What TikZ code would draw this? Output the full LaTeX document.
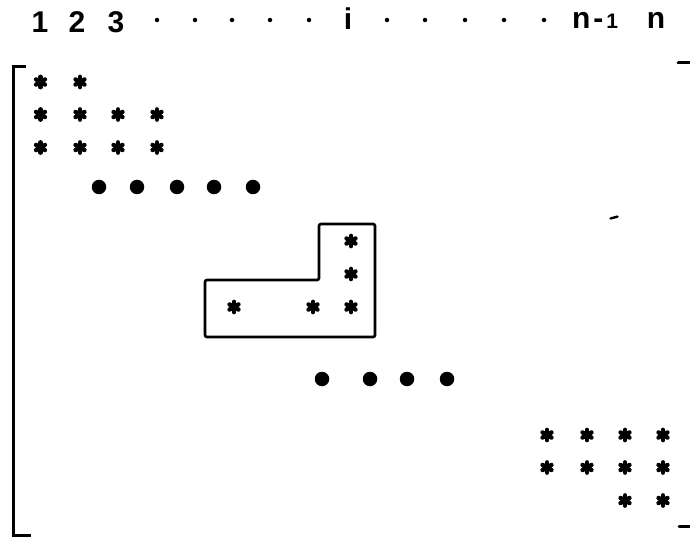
\documentclass[tikz,border=0pt]{standalone}
\usepackage{fontspec}
\setmainfont{Liberation Sans}
\tikzset{
  sixstar/.pic={
    \foreach \a in {90,30,150}{\draw[line width=4.3pt,line cap=round] (\a:5.2) -- (\a+180:5.2);}
    \fill (0,0) circle (4.6);
  },
  bigdot/.style={circle,fill=black,inner sep=0pt,minimum size=14.5pt},
  smalldot/.style={circle,fill=black,inner sep=0pt,minimum size=4.5pt},
  lbl/.style={inner sep=0pt,anchor=base,font=\fontsize{30}{30}\selectfont\bfseries},
  frame/.style={line width=3pt},
  boxline/.style={line width=2.7pt,rounded corners=2pt,line join=round},
}
\begin{document}
\begin{tikzpicture}[x=1pt,y=-1pt]
\useasboundingbox (0,0) rectangle (690,537);
% column labels
\node[lbl] (c1) at (40,33) {1};
\node[lbl] (c2) at (77,33) {2};
\node[lbl] (c3) at (116,33) {3};
\foreach \x [count=\k] in {157,195,232,270,309}{\node[smalldot] (da\k) at (\x,20) {};}
\node[lbl] (ci) at (348,30) {i};
\foreach \x [count=\k] in {387,425,465,504,544}{\node[smalldot] (db\k) at (\x,20) {};}
\node[lbl] (cn1) at (595,28.5) {n\kern3pt-\kern3pt{\fontsize{21}{21}\selectfont 1}};
\node[lbl] (cn) at (656,28.5) {n};
% left bracket
\draw[frame,line cap=butt,line join=miter] (26,66.5) -- (13.5,66.5) -- (13.5,535) -- (31,535);
% right bracket remnants
\draw[line width=3.6pt,line cap=round] (678.5,62.7) -- (690,62.7);
\draw[line width=2.4pt,line cap=round] (610.5,218.5) -- (617.5,216.6);
\draw[line width=3pt,line cap=round] (679,526) -- (690,526);
% top-left stars
\pic (s11) at (40.5,82) {sixstar};
\pic (s12) at (80,82) {sixstar};
\foreach \y [count=\r from 2] in {114.5,147.5}{
  \foreach \x [count=\c] in {40.5,80,118,157}{\pic (s\r\c) at (\x,\y) {sixstar};}
}
% first row of big dots
\foreach \x [count=\k] in {99,137,177,214,253}{\node[bigdot] (ba\k) at (\x,187) {};}
% L-shaped box
\draw[boxline] (205,280) -- (319,280) -- (319,224) -- (375,224) -- (375,337) -- (205,337) -- cycle;
\pic (b1) at (351,241) {sixstar};
\pic (b2) at (351,274) {sixstar};
\pic (b3) at (351,307) {sixstar};
\pic (b4) at (313,307) {sixstar};
\pic (b5) at (234,307) {sixstar};
% second row of big dots
\foreach \x [count=\k] in {322,370,407,447}{\node[bigdot] (bb\k) at (\x,379) {};}
% bottom-right stars
\foreach \y [count=\r] in {435,467.5}{
  \foreach \x [count=\c] in {547,587,625,663}{\pic (t\r\c) at (\x,\y) {sixstar};}
}
\pic (t31) at (625,500.5) {sixstar};
\pic (t32) at (663,500.5) {sixstar};
\end{tikzpicture}
\end{document}
